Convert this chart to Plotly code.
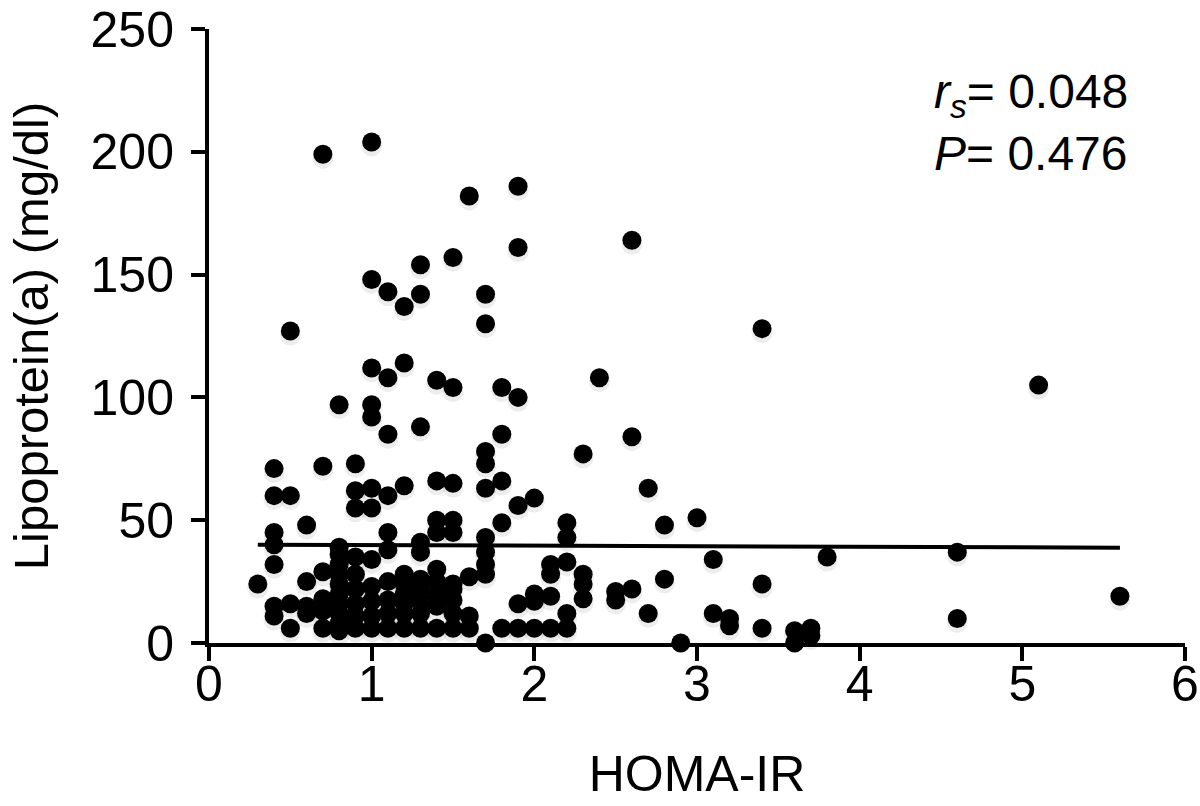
import plotly.graph_objects as go

# HOMA-IR (x) and Lipoprotein(a) mg/dl (y), read column by column
homa = []
lpa = []
columns = {
    0.3: [24],
    0.4: [71, 60, 45, 40, 32, 15, 11],
    0.5: [127, 60, 16, 6],
    0.6: [48, 25, 15, 12],
    0.7: [199, 72, 29, 18, 13, 6],
    0.8: [97, 39, 36, 32, 28, 24, 20, 16, 12, 8, 5],
    0.9: [73, 62, 55, 35, 28, 22, 16, 11, 6],
    1.0: [204, 148, 112, 97, 92, 63, 55, 34, 23, 17, 11, 6],
    1.1: [143, 108, 85, 60, 45, 38, 25, 17.5, 12, 6],
    1.2: [137, 114, 64, 28, 24, 20, 16, 12, 6],
    1.3: [154, 142, 88, 41, 37, 26, 22, 17, 12, 6],
    1.4: [107, 66, 50, 45, 30, 25, 20, 15, 6],
    1.5: [157, 104, 65, 50, 45, 24, 22, 17.5, 12, 6],
    1.6: [182, 27, 11, 6],
    1.7: [142, 130, 78, 73, 63, 43, 37, 32, 28, 0],
    1.8: [104, 85, 66, 49, 6],
    1.9: [186, 161, 100, 56, 16, 6],
    2.0: [59, 20, 17, 6],
    2.1: [32, 28, 19, 6],
    2.2: [49, 43, 33, 12, 6],
    2.3: [77, 28, 24, 18],
    2.4: [108],
    2.5: [21, 17.5],
    2.6: [164, 84, 22],
    2.7: [63, 12],
    2.8: [48, 26],
    2.9: [0],
    3.0: [51],
    3.1: [34, 12],
    3.2: [10, 7],
    3.4: [128, 24, 6],
    3.6: [5, 0],
    3.7: [6, 3],
    3.8: [35],
    4.6: [37, 10],
    5.1: [105],
    5.6: [19],
}
for xv, ys in columns.items():
    for yv in ys:
        homa.append(xv)
        lpa.append(yv)

fit_x = [0.3, 5.6]
fit_y = [40.0, 38.8]

x_ticks = [0, 1, 2, 3, 4, 5, 6]
y_ticks = [0, 50, 100, 150, 200, 250]

FONT = "Liberation Sans, Arial, Helvetica, sans-serif"

fig = go.Figure()
# soft drop shadow: same data on an overlaid y axis whose range is nudged so marks sit a few px lower
fig.add_trace(go.Scatter(
    x=homa, y=lpa, mode="markers", yaxis="y2",
    marker=dict(size=21, color="rgba(0,0,0,0.07)", line=dict(width=0)),
    cliponaxis=False, hoverinfo="skip", showlegend=False))
fig.add_trace(go.Scatter(
    x=fit_x, y=fit_y, mode="lines",
    line=dict(color="black", width=4), showlegend=False))
fig.add_trace(go.Scatter(
    x=homa, y=lpa, mode="markers",
    marker=dict(size=19, color="black", line=dict(width=0)),
    cliponaxis=False, showlegend=False))

fig.update_layout(
    width=1200, height=806,
    margin=dict(l=209, r=15, t=29, b=163),
    plot_bgcolor="white", paper_bgcolor="white",
    font=dict(family=FONT, color="black", size=48),
    xaxis=dict(
        range=[0, 6], tickvals=x_ticks, ticktext=[str(v) for v in x_ticks],
        showline=True, linecolor="black", linewidth=4,
        ticks="outside", ticklen=14, tickwidth=4, tickcolor="black",
        showgrid=False, zeroline=False, automargin=False,
        tickfont=dict(size=50), ticklabelstandoff=-20, ticklabeloverflow="allow",
        title=dict(text="HOMA-IR", font=dict(size=50), standoff=46),
    ),
    yaxis=dict(
        range=[0, 250], tickvals=y_ticks, ticktext=[str(v) for v in y_ticks],
        showline=True, linecolor="black", linewidth=4,
        ticks="outside", ticklen=14, tickwidth=4, tickcolor="black",
        showgrid=False, zeroline=False, automargin=False,
        tickfont=dict(size=50), ticklabelstandoff=7, ticklabeloverflow="allow",
        title=dict(text="Lipoprotein(a) (mg/dl)", font=dict(size=49), standoff=27),
    ),
    yaxis2=dict(
        range=[1.6, 251.6], overlaying="y", visible=False,
    ),
)
fig.add_annotation(
    xref="paper", yref="paper", x=0.944, y=0.945, xanchor="right", yanchor="top",
    text="<i>r</i><sub><i>s</i></sub>= 0.048<br><i>P</i>= 0.476",
    showarrow=False, align="left", font=dict(size=48, family=FONT),
)
fig.write_html(
    "out.html",
    config={"displayModeBar": False},
    post_script="document.body.style.margin='0';document.body.style.overflow='hidden';",
)
